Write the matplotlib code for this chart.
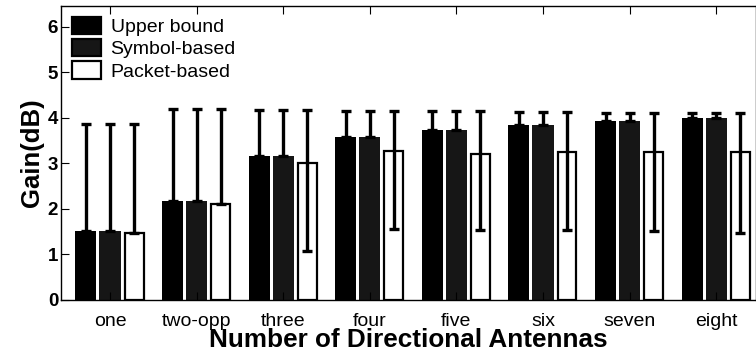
import numpy as np
import matplotlib.pyplot as plt

plt.rcParams['font.family'] = ['Liberation Sans', 'DejaVu Sans']

categories = ["one", "two-opp", "three", "four", "five", "six", "seven", "eight"]

upper = [1.52, 2.18, 3.17, 3.58, 3.73, 3.84, 3.92, 4.00]
upper_hi = [3.87, 4.18, 4.17, 4.15, 4.14, 4.13, 4.11, 4.11]

symbol = [1.52, 2.18, 3.17, 3.58, 3.73, 3.84, 3.92, 4.00]
symbol_hi = [3.87, 4.18, 4.17, 4.15, 4.14, 4.13, 4.11, 4.11]

packet = [1.48, 2.10, 3.00, 3.27, 3.20, 3.25, 3.25, 3.25]
packet_hi = [3.87, 4.18, 4.17, 4.15, 4.14, 4.13, 4.11, 4.11]
packet_lo = [1.48, 2.10, 1.08, 1.56, 1.53, 1.53, 1.52, 1.48]

WIDTH = 0.243
OFFSET = 0.278

fig = plt.figure(figsize=(7.56, 3.58), dpi=100)
ax = fig.add_axes([61 / 756, 1 - 300 / 358, 1 - 61 / 756, (300 - 6) / 358])

x = np.arange(1, len(categories) + 1)
series = [
    (upper, upper, upper_hi, "#000000", "none", 0.0, WIDTH, "Upper bound", -OFFSET),
    (symbol, symbol, symbol_hi, "#161616", "none", 0.0, WIDTH, "Symbol-based", 0.0),
    (packet, packet_lo, packet_hi, "white", "black", 1.6, WIDTH - 0.025, "Packet-based", OFFSET),
]

for vals, lo, hi, fc, ec, lw, w, label, off in series:
    vals = np.array(vals)
    yerr = np.vstack([vals - np.array(lo), np.array(hi) - vals])
    ax.bar(x + off, vals, w, color=fc, edgecolor=ec, linewidth=lw,
           label=label, zorder=1)
    ax.errorbar(x + off, vals, yerr=yerr, fmt='none', ecolor='black',
                elinewidth=2.4, capsize=3.6, capthick=2.4, zorder=3)

ax.set_xlim(0.434, 8.46)
ax.set_ylim(0, 6.45)
ax.set_xticks(x)
ax.set_xticklabels(categories, fontsize=14)
ax.set_yticks(range(0, 7))
ax.set_yticklabels([str(v) for v in range(0, 7)], fontsize=13.5, fontweight='bold')
ax.tick_params(axis='x', direction='in', top=True, bottom=True, length=6, pad=9)
ax.tick_params(axis='y', direction='in', left=True, right=False, length=6, pad=2)
for s in ax.spines.values():
    s.set_linewidth(1.0)

ax.set_xlabel("Number of Directional Antennas", fontsize=18.8, fontweight='bold', labelpad=-1)
ax.set_ylabel("Gain(dB)", fontsize=18.5, fontweight='bold', labelpad=3)

leg = ax.legend(loc='upper left', frameon=False, fontsize=14, handlelength=1.5,
                handleheight=1.0, labelspacing=0.15, handletextpad=0.5,
                borderaxespad=0.35, borderpad=0.2)
for h in leg.legend_handles:
    h.set_edgecolor('black')
    h.set_linewidth(1.6)

fig.savefig("out.png", dpi=100)
